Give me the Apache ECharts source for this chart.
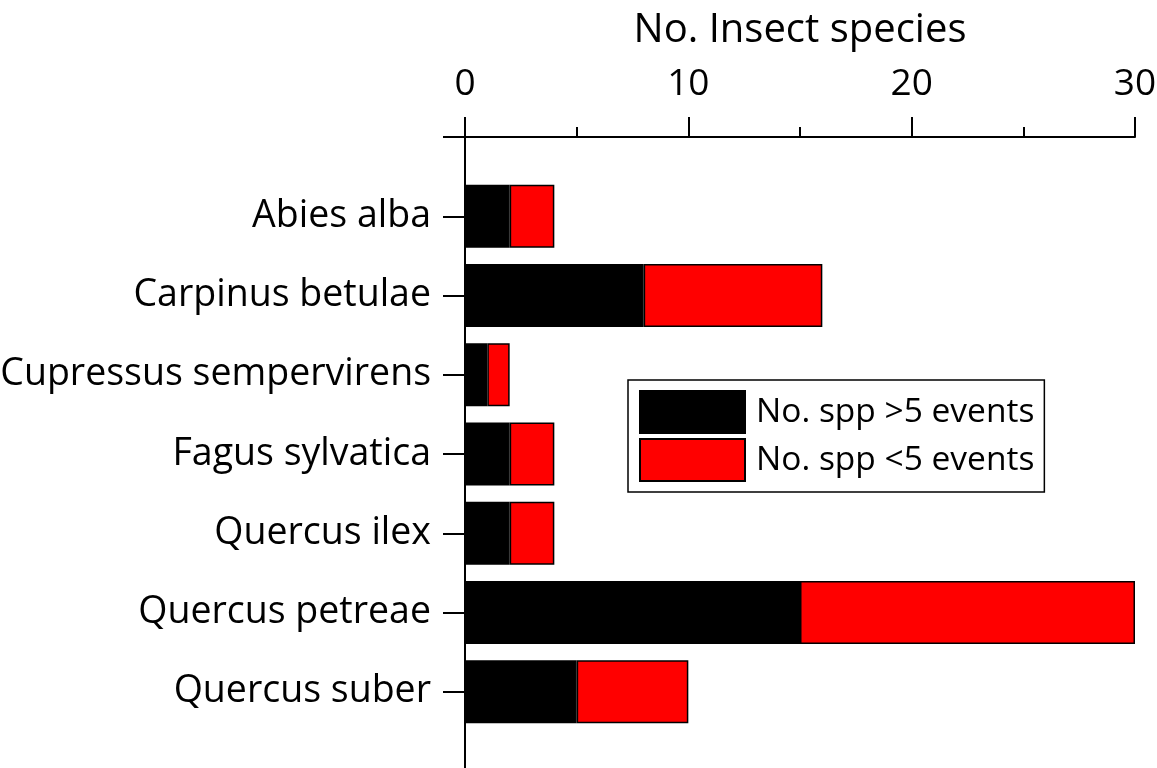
<!DOCTYPE html>
<html>
<head>
<meta charset="utf-8">
<script src="https://cdn.jsdelivr.net/npm/echarts@6/dist/echarts.min.js"></script>
<style>
  html, body { margin: 0; padding: 0; background: #fff; }
  #main { width: 1157px; height: 768px; }
</style>
</head>
<body>
<div id="main"></div>
<script>
// tree species (top to bottom), padded with empty slots at both ends of the axis
const species = ['Abies alba', 'Carpinus betulae', 'Cupressus sempervirens', 'Fagus sylvatica',
  'Quercus ilex', 'Quercus petreae', 'Quercus suber'];
const moreThan5 = [2, 8, 1, 2, 2, 15, 5];
const lessThan5 = [2, 8, 1, 2, 2, 15, 5];
const xTicks = [0, 10, 20, 30];

const cats = [''].concat(species, ['']);
const pad = arr => [null].concat(arr, [null]);
const font = 'Open Sans';

let myChart = echarts.init(document.getElementById('main'));
myChart.setOption({
  animation: false,
  textStyle: { fontFamily: font },
  grid: { left: 465, top: 137, width: 670, height: 634, outerBoundsMode: 'none', containLabel: false },
  legend: {
    orient: 'vertical',
    left: 628, top: 380,
    padding: [10, 10, 10, 11],
    itemWidth: 105, itemHeight: 42, itemGap: 4,
    borderColor: '#000', borderWidth: 1.5,
    icon: 'rect',
    textStyle: { fontSize: 33.5, color: '#000', fontFamily: font, padding: [0, 0, 0, 6] },
    data: ['No. spp >5 events', 'No. spp <5 events']
  },
  xAxis: {
    type: 'value', position: 'top',
    min: 0, max: 30, interval: 10,
    name: 'No. Insect species', nameLocation: 'middle', nameGap: 86,
    nameTextStyle: { fontSize: 40, color: '#000', fontFamily: font },
    axisLine: { show: true, lineStyle: { color: '#000', width: 2 } },
    axisTick: { show: true, length: 20, lineStyle: { color: '#000', width: 2 } },
    minorTick: { show: true, splitNumber: 2, length: 10, lineStyle: { color: '#000', width: 2 } },
    axisLabel: {
      fontSize: 37, color: '#000', margin: 34, fontFamily: font,
      formatter: v => xTicks.indexOf(v) >= 0 ? String(v) : ''
    },
    splitLine: { show: false }
  },
  yAxis: {
    type: 'category', inverse: true, boundaryGap: false,
    data: cats,
    axisLine: { show: true, onZero: false, lineStyle: { color: '#000', width: 2 } },
    axisTick: {
      show: true, length: 22, alignWithLabel: true,
      interval: (i) => i < cats.length - 1,
      lineStyle: { color: '#000', width: 2 }
    },
    axisLabel: { fontSize: 37.5, color: '#000', margin: 34, fontFamily: font, interval: 0 }
  },
  series: [
    {
      name: 'No. spp >5 events', type: 'bar', stack: 'total', barWidth: 63,
      itemStyle: { color: '#000', borderColor: '#000', borderWidth: 1.5 },
      data: pad(moreThan5)
    },
    {
      name: 'No. spp <5 events', type: 'bar', stack: 'total', barWidth: 63,
      itemStyle: { color: '#ff0000', borderColor: '#000', borderWidth: 1.5 },
      data: pad(lessThan5)
    }
  ]
});
</script>
</body>
</html>
